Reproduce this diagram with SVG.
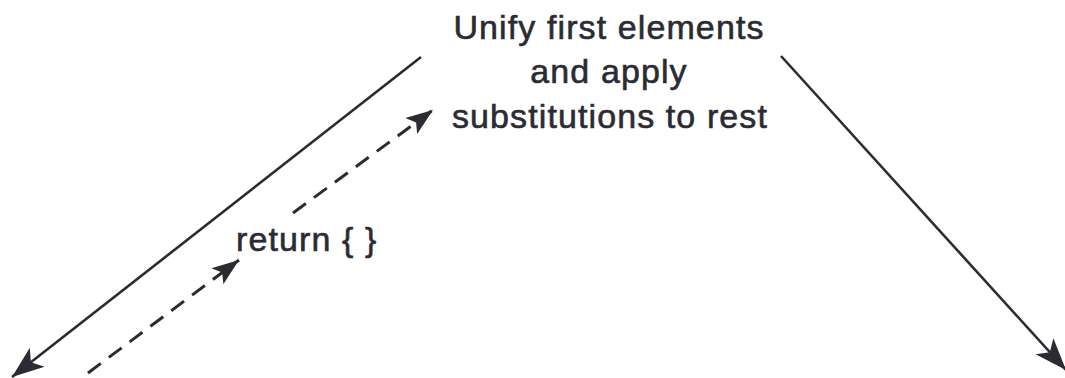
<svg xmlns="http://www.w3.org/2000/svg" width="1065" height="378" viewBox="0 0 1065 378">
<style>
.t{font-family:"Liberation Sans",Arial,sans-serif;font-size:34px;fill:#2b2b33;stroke:#2b2b33;stroke-width:0.6;letter-spacing:1.1px}
.s{stroke:#2b2b33;stroke-width:2.6;fill:none}
.d{stroke-width:3;stroke-dasharray:16 10}
</style>
<defs>
<marker id="ah" markerUnits="userSpaceOnUse" markerWidth="34" markerHeight="26" viewBox="0 0 34 26" refX="32" refY="13" orient="auto">
<path d="M32,13 L0,1 L8,13 L0,25 Z" fill="#2b2b33"/>
</marker>
<marker id="ah2" markerUnits="userSpaceOnUse" markerWidth="28" markerHeight="22" viewBox="0 0 28 22" refX="27" refY="11" orient="auto">
<path d="M27,11 L0,1 L6,11 L0,21 Z" fill="#2b2b33"/>
</marker>
</defs>
<rect width="1065" height="378" fill="#ffffff"/>
<g id="connectors">
<line class="s" x1="421" y1="57" x2="12" y2="377" marker-end="url(#ah)"/>
<line class="s" x1="781" y1="56" x2="1066" y2="370" marker-end="url(#ah)"/>
<line class="s d" x1="293" y1="213" x2="433" y2="110" marker-end="url(#ah2)"/>
<line class="s d" x1="88" y1="373" x2="239" y2="260" marker-end="url(#ah2)"/>
</g>
<g id="node-unify">
<text class="t" x="609" y="39" text-anchor="middle">Unify first elements</text>
<text class="t" x="609" y="83" text-anchor="middle">and apply</text>
<text class="t" x="610" y="128" text-anchor="middle">substitutions to rest</text>
</g>
<g id="node-return">
<text class="t" x="236" y="251">return { }</text>
</g>
</svg>
